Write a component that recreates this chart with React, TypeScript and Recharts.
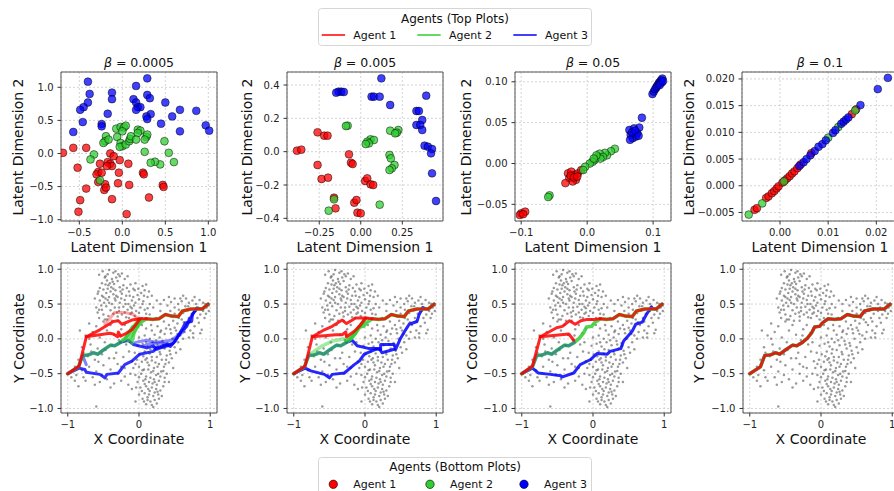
import React from "react";
import {
  ScatterChart,
  Scatter,
  XAxis,
  YAxis,
  CartesianGrid,
  ReferenceArea,
} from "recharts";

type XY = number[][];

const AGENT_COLORS = ["#ff0000", "#32cd32", "#0000ff"];
const agentNames = ["Agent 1", "Agent 2", "Agent 3"];
const betaLabels = ["0.0005", "0.005", "0.05", "0.1"];

// ---------- top row: latent space, one list per agent ----------
const latentB1A1: XY = [
  [-0.69, 0.01], [-0.57, 0.085], [-0.42, 0.085], [-0.52, -0.215], [-0.42, -0.53], [-0.49, -0.705],
  [-0.51, -0.88], [-0.14, 0.0], [-0.1, -0.04], [-0.03, -0.1], [-0.17, -0.13], [-0.14, -0.155],
  [-0.12, -0.19], [-0.18, -0.19], [-0.26, -0.155], [-0.28, -0.28], [-0.3, -0.315], [-0.24, -0.29],
  [-0.04, -0.29], [0.07, -0.155], [-0.28, -0.43], [-0.2, -0.465], [-0.21, -0.55], [-0.19, -0.515],
  [-0.05, -0.45], [0.08, -0.475], [-0.12, -0.69], [0.05, -0.915], [0.24, -0.29], [0.25, -0.315],
  [0.47, -0.475], [0.48, -0.505], [0.31, -0.665],
];
const latentB1A2: XY = [
  [-0.07, 0.375], [-0.02, 0.4], [0.02, 0.395], [0.04, 0.42], [0.0, 0.335], [-0.19, 0.26],
  [-0.2, 0.185], [-0.22, 0.16], [-0.16, 0.21], [-0.06, 0.25], [-0.02, 0.16], [0.0, 0.11],
  [-0.03, 0.1], [0.04, 0.135], [0.08, 0.185], [0.09, 0.22], [0.1, 0.26], [0.18, 0.36],
  [0.21, 0.345], [0.18, 0.31], [0.28, 0.25], [0.29, 0.285], [0.26, 0.21], [0.16, 0.21],
  [0.49, 0.185], [0.26, 0.025], [0.54, 0.01], [0.6, -0.13], [0.44, -0.165], [0.38, -0.125],
  [0.33, -0.14], [-0.33, -0.015], [-0.37, -0.09], [-0.26, -0.405],
];
const latentB1A3: XY = [
  [-0.4, 1.085], [-0.38, 0.9], [-0.4, 0.77], [-0.45, 0.7], [-0.49, 0.66], [-0.46, 0.475],
  [-0.57, 0.325], [-0.12, 0.92], [-0.12, 0.82], [-0.17, 0.6], [-0.24, 0.445], [-0.24, 0.41],
  [0.29, 1.135], [0.16, 1.02], [0.13, 0.82], [0.16, 0.77], [0.18, 0.7], [0.21, 0.7],
  [0.16, 0.66], [0.29, 0.885], [0.32, 0.835], [0.33, 0.595], [0.28, 0.56], [0.29, 0.52],
  [0.5, 0.77], [0.58, 0.56], [0.45, 0.45], [0.67, 0.66], [0.67, 0.335], [0.86, 0.645],
  [0.97, 0.425], [1.01, 0.345],
];

const latentB2A1: XY = [
  [-0.384, 0.006], [-0.358, 0.012], [-0.26, 0.116], [-0.22, 0.096], [-0.2, 0.096], [-0.26, -0.08],
  [-0.236, -0.164], [-0.197, -0.156], [-0.071, -0.016], [-0.059, -0.066], [-0.049, -0.074],
  [0.026, -0.176], [0.039, -0.16], [0.059, -0.196], [0.075, -0.2], [-0.161, -0.276],
  [-0.152, -0.34], [-0.039, -0.306], [-0.026, -0.29], [-0.02, -0.366], [0.0, -0.37],
];
const latentB2A2: XY = [
  [-0.079, 0.156], [-0.089, 0.154], [0.177, 0.126], [0.226, 0.13], [0.217, 0.114], [0.207, 0.11],
  [0.059, 0.074], [0.079, 0.07], [0.039, 0.06], [0.049, 0.05], [0.03, 0.046], [0.173, -0.02],
  [0.181, -0.04], [0.203, -0.08], [0.187, -0.1], [0.173, -0.11], [-0.161, -0.286],
  [-0.193, -0.354], [0.114, -0.318],
];
const latentB2A3: XY = [
  [0.124, 0.44], [-0.134, 0.36], [-0.118, 0.36], [-0.148, 0.354], [-0.102, 0.358], [0.065, 0.33],
  [0.079, 0.33], [0.114, 0.33], [0.177, 0.28], [0.394, 0.336], [0.335, 0.244], [0.35, 0.244],
  [0.37, 0.19], [0.335, 0.16], [0.358, 0.16], [0.37, 0.13], [0.384, 0.036], [0.404, 0.03],
  [0.429, 0.016], [0.423, -0.01], [0.429, -0.13], [0.453, -0.296],
];

const latentB3A1: XY = [
  [-0.029, -0.012], [-0.024, -0.01], [-0.019, -0.014], [-0.027, -0.018], [-0.017, -0.02],
  [-0.022, -0.022], [-0.033, -0.024], [-0.014, -0.012], [-0.009, -0.008], [-0.025, -0.015],
  [-0.02, -0.017], [-0.015, -0.016], [-0.1, -0.061], [-0.094, -0.059], [-0.102, -0.063],
  [-0.097, -0.062],
];
const latentB3A2: XY = [
  [0.042, 0.018], [0.036, 0.015], [0.03, 0.01], [0.027, 0.013], [0.019, 0.012], [0.016, 0.008],
  [0.024, 0.008], [0.02, 0.006], [0.011, 0.004], [0.014, 0.01], [0.008, 0.002], [0.004, 0.0],
  [-0.003, -0.004], [-0.006, -0.008], [0.01, 0.006], [-0.057, -0.039], [-0.059, -0.041],
];
const latentB3A3: XY = [
  [0.099, 0.085], [0.101, 0.088], [0.103, 0.091], [0.105, 0.093], [0.106, 0.095], [0.108, 0.097],
  [0.109, 0.099], [0.111, 0.1], [0.112, 0.102], [0.114, 0.104], [0.113, 0.099], [0.11, 0.096],
  [0.115, 0.101], [0.083, 0.056], [0.064, 0.041], [0.071, 0.043], [0.079, 0.044], [0.066, 0.035],
  [0.069, 0.031], [0.076, 0.037], [0.074, 0.033], [0.068, 0.038], [0.073, 0.04], [0.078, 0.034],
  [0.065, 0.029],
];

const latentB4A1: XY = [
  [-0.0053, -0.0045], [-0.0048, -0.0042], [-0.0029, -0.0023], [-0.0024, -0.002], [-0.0017, -0.0014],
  [-0.0012, -0.001], [-0.0007, -0.0005], [-0.0003, -0.0001], [0.0005, 0.0006], [0.001, 0.001],
  [0.0015, 0.0014], [0.002, 0.0018], [0.0025, 0.0023], [0.003, 0.0027], [0.0036, 0.0033],
  [0.0043, 0.004], [0.0065, 0.0061], [0.0149, 0.0134], [0.0158, 0.0143],
];
const latentB4A2: XY = [
  [-0.0065, -0.0054], [-0.0037, -0.0033], [0.0008, 0.0008], [0.01, 0.009], [0.0121, 0.011],
  [0.0156, 0.0141],
];
const latentB4A3: XY = [
  [0.004, 0.0037], [0.0049, 0.0044], [0.0055, 0.005], [0.0063, 0.0057], [0.0072, 0.0065],
  [0.008, 0.0073], [0.0088, 0.0078], [0.0095, 0.0085], [0.011, 0.0099], [0.0115, 0.0104],
  [0.0127, 0.0116], [0.0132, 0.012], [0.0137, 0.0124], [0.0142, 0.0128], [0.0167, 0.0151],
  [0.0203, 0.0181], [0.0224, 0.0202],
];

const latentSets = [
  [latentB1A1, latentB1A2, latentB1A3],
  [latentB2A1, latentB2A2, latentB2A3],
  [latentB3A1, latentB3A2, latentB3A3],
  [latentB4A1, latentB4A2, latentB4A3],
];
const topXDomains = [[-0.713, 1.101], [-0.444, 0.495], [-0.1094, 0.1271], [-0.0079, 0.0245]];
const topYDomains = [[-1.02, 1.231], [-0.416, 0.478], [-0.0704, 0.112], [-0.0066, 0.0213]];
const topXTicks = [[-0.5, 0, 0.5, 1.0], [-0.25, 0, 0.25], [-0.1, 0, 0.1], [0, 0.01, 0.02]];
const topYTicks = [
  [-1.0, -0.5, 0, 0.5, 1.0],
  [-0.4, -0.2, 0, 0.2, 0.4],
  [-0.05, 0, 0.05, 0.1],
  [-0.005, 0, 0.005, 0.01, 0.015, 0.02],
];
const topXDecimals = [1, 2, 1, 2];
const topYDecimals = [1, 1, 2, 3];

// ---------- bottom row: map points and trajectories ----------
const mapPoints: XY = [
  [-0.42, 0.99], [-0.29, 0.93], [-0.24, 0.94], [-0.48, 0.88], [-0.45, 0.84], [-0.38, 0.86], [-0.52, 0.8],
  [-0.47, 0.78], [-0.41, 0.8], [-0.35, 0.79], [-0.3, 0.83], [-0.55, 0.73], [-0.5, 0.71], [-0.44, 0.72],
  [-0.39, 0.74], [-0.33, 0.7], [-0.27, 0.74], [-0.22, 0.77], [-0.12, 0.78], [-0.05, 0.8], [-0.08, 0.72],
  [0.05, 0.76], [0.1, 0.78], [0.08, 0.7], [-0.58, 0.65], [-0.52, 0.62], [-0.46, 0.66], [-0.42, 0.6],
  [-0.36, 0.64], [-0.3, 0.6], [-0.24, 0.65], [-0.18, 0.62], [-0.14, 0.68], [-0.02, 0.63], [0.03, 0.66],
  [-0.55, 0.55], [-0.49, 0.52], [-0.44, 0.56], [-0.38, 0.5], [-0.33, 0.55], [-0.27, 0.52], [-0.2, 0.56],
  [-0.15, 0.5], [-0.1, 0.55], [-0.05, 0.52], [0.0, 0.57], [0.06, 0.54], [0.12, 0.6], [-0.6, 0.45],
  [-0.52, 0.42], [-0.46, 0.47], [-0.4, 0.41], [-0.34, 0.45], [-0.28, 0.4], [-0.22, 0.46], [-0.16, 0.42],
  [-0.1, 0.44], [-0.04, 0.4], [0.02, 0.45], [0.08, 0.42], [-0.5, 0.35], [-0.43, 0.33], [-0.36, 0.36],
  [-0.3, 0.32], [-0.24, 0.35], [-0.18, 0.31], [-0.12, 0.36], [-0.06, 0.33], [0.0, 0.37], [-0.56, 0.92],
  [-0.36, 0.95], [-0.2, 0.86], [-0.16, 0.9], [-0.62, 0.58], [0.15, 0.5], [0.18, 0.62], [-0.44, 0.93],
  [-0.5, 0.6], [-0.26, 0.68], [-0.08, 0.6], [-0.47, 0.9], [-0.4, 0.68], [-0.32, 0.88], [-0.25, 0.58],
  [-0.12, 0.46], [-0.58, 0.38], [-0.48, 0.28], [-0.38, 0.26], [-0.2, 0.38], [0.04, 0.3], [-0.42, 0.52],
  [-0.36, 0.72], [-0.28, 0.45], [-0.06, 0.7], [0.14, 0.68], [-0.53, 0.48], [-0.17, 0.73], [-0.32, 0.62],
  [-0.1, 0.38], [0.1, 0.36], [-0.51, 0.97], [-0.33, 0.97], [-0.27, 0.9], [-0.43, 0.77], [-0.37, 0.82],
  [-0.57, 0.68], [-0.23, 0.71], [-0.13, 0.62], [-0.01, 0.72], [0.07, 0.62], [-0.47, 0.58], [-0.34, 0.58],
  [-0.19, 0.5], [-0.07, 0.48], [0.05, 0.5], [-0.56, 0.42], [-0.31, 0.38], [-0.14, 0.3], [-0.02, 0.28],
  [0.12, 0.44],
  [0.25, 0.55], [0.3, 0.5], [0.35, 0.56], [0.4, 0.48], [0.45, 0.53], [0.5, 0.58], [0.55, 0.5], [0.6, 0.54],
  [0.65, 0.47], [0.7, 0.52], [0.75, 0.55], [0.8, 0.5], [0.85, 0.56], [0.9, 0.52], [0.95, 0.45], [0.98, 0.4],
  [0.3, 0.4], [0.38, 0.35], [0.44, 0.4], [0.5, 0.36], [0.56, 0.42], [0.62, 0.37], [0.68, 0.41], [0.74, 0.36],
  [0.8, 0.4], [0.86, 0.35], [0.92, 0.3], [0.35, 0.25], [0.42, 0.2], [0.48, 0.26], [0.54, 0.22], [0.6, 0.28],
  [0.66, 0.2], [0.72, 0.25], [0.78, 0.18], [0.84, 0.23], [0.3, 0.1], [0.38, 0.15], [0.45, 0.08], [0.52, 0.12],
  [0.58, 0.05], [0.64, 0.1], [0.7, 0.02], [0.76, 0.08], [0.88, 0.13], [0.24, 0.3], [0.2, 0.45], [0.15, 0.35],
  [0.93, 0.5], [0.62, 0.62], [0.5, 0.45], [0.7, 0.3], [0.82, 0.3], [0.56, 0.3], [0.66, 0.58], [0.42, 0.6],
  [0.9, 0.4], [0.78, 0.6], [0.5, 0.16], [0.72, 0.12], [0.58, 0.58], [0.69, 0.47], [0.83, 0.45],
  [0.94, 0.36], [0.63, 0.24], [0.46, 0.32], [0.76, 0.02], [0.86, 0.08], [0.54, 0.07], [0.98, 0.48],
  [0.1, -0.94], [0.16, -0.9], [0.25, -0.93], [0.05, -0.86], [0.12, -0.84], [0.2, -0.82], [0.28, -0.86],
  [0.08, -0.78], [0.15, -0.75], [0.22, -0.77], [0.3, -0.74], [0.02, -0.7], [0.1, -0.68], [0.18, -0.7],
  [0.25, -0.66], [0.34, -0.68], [-0.02, -0.62], [0.06, -0.6], [0.14, -0.62], [0.21, -0.58], [0.28, -0.6],
  [0.36, -0.56], [-0.05, -0.52], [0.03, -0.5], [0.1, -0.54], [0.17, -0.48], [0.24, -0.52], [0.31, -0.47],
  [0.39, -0.5], [-0.08, -0.42], [0.0, -0.4], [0.07, -0.44], [0.14, -0.38], [0.21, -0.42], [0.28, -0.36],
  [0.35, -0.4], [0.42, -0.34], [-0.1, -0.32], [-0.03, -0.3], [0.04, -0.33], [0.11, -0.28], [0.18, -0.31],
  [0.25, -0.26], [0.32, -0.3], [0.39, -0.24], [0.46, -0.28], [-0.06, -0.2], [0.01, -0.22], [0.08, -0.18],
  [0.15, -0.21], [0.22, -0.16], [0.29, -0.19], [0.36, -0.14], [0.43, -0.17], [0.5, -0.12], [-0.02, -0.1],
  [0.05, -0.07], [0.12, -0.11], [0.19, -0.05], [0.26, -0.09], [0.33, -0.03], [0.4, -0.06], [0.47, 0.0],
  [0.55, -0.05], [0.0, 0.02], [0.08, 0.05], [0.15, 0.0], [0.22, 0.06], [0.29, 0.02], [0.36, 0.07],
  [0.1, 0.15], [0.18, 0.12], [0.26, 0.18], [0.04, 0.2], [0.32, -0.82], [0.0, -0.8], [-0.04, -0.7],
  [0.42, -0.62], [0.2, -0.98], [0.48, -0.42], [0.13, -0.72], [0.24, -0.72], [0.19, -0.64], [0.08, -0.65],
  [0.3, -0.54], [0.16, -0.56], [0.05, -0.45], [0.2, -0.46], [0.34, -0.46], [0.26, -0.4], [0.12, -0.34],
  [0.38, -0.3], [0.3, -0.22], [0.44, -0.22], [0.52, -0.2], [0.18, -0.26], [0.06, -0.25], [0.34, -0.08],
  [0.58, -0.15], [0.62, 0.0], [0.12, -0.88], [0.22, -0.88], [0.18, -0.95], [0.27, -0.8], [0.04, -0.75],
  [0.07, -0.9], [0.14, -0.8], [0.26, -0.76], [0.36, -0.62], [0.22, -0.62], [0.09, -0.58], [0.0, -0.55],
  [0.27, -0.5], [0.13, -0.44], [0.37, -0.36], [0.23, -0.34], [0.09, -0.3], [-0.05, -0.36], [0.16, -0.15],
  [0.41, -0.1], [0.24, -0.02], [0.1, -0.05], [0.31, 0.12], [0.44, 0.14], [0.17, 0.2],
  [-0.6, -0.97], [-0.9, -0.6], [-0.85, -0.68], [-0.75, -0.6], [-0.65, -0.55], [-0.55, -0.62], [-0.45, -0.58],
  [-0.35, -0.64], [-0.25, -0.6], [-0.15, -0.66], [-0.8, -0.45], [-0.7, -0.4], [-0.6, -0.47], [-0.5, -0.38],
  [-0.4, -0.44], [-0.3, -0.36], [-0.2, -0.42], [-0.85, -0.3], [-0.72, -0.25], [-0.62, -0.3], [-0.52, -0.22],
  [-0.42, -0.28], [-0.32, -0.2], [-0.22, -0.26], [-0.14, -0.18], [-0.8, -0.12], [-0.68, -0.08], [-0.58, -0.14],
  [-0.48, -0.05], [-0.38, -0.1], [-0.28, -0.02], [-0.18, -0.08], [-0.75, 0.05], [-0.65, 0.1], [-0.55, 0.02],
  [-0.45, 0.12], [-0.35, 0.06], [-0.25, 0.14], [-0.15, 0.08], [-0.7, 0.22], [-0.6, 0.18], [-0.5, 0.25],
  [-0.4, 0.2], [-0.3, 0.26], [-0.2, 0.2], [-0.1, 0.15], [-0.88, -0.52], [-0.95, -0.55], [-0.12, -0.5],
  [-0.05, -0.9], [-0.78, -0.55], [-0.57, -0.33], [-0.47, -0.16], [-0.67, -0.18], [-0.35, -0.28],
  [-0.25, -0.4], [-0.9, -0.4], [-0.62, -0.66], [-0.4, -0.7], [-0.2, -0.54], [-0.7, 0.0], [-0.45, 0.28],
  [-0.83, 0.12], [-0.3, -0.5], [-0.1, -0.72], [-0.56, 0.3], [-0.78, -0.2], [-0.52, -0.52], [-0.26, 0.05],
  [-0.12, -0.05],
];

// route shared by every agent when beta is large
const mainRoute: XY = [
  [-1, -0.5], [-0.85, -0.4], [-0.79, -0.24], [-0.71, -0.23], [-0.64, -0.2], [-0.58, -0.22], [-0.5, -0.16],
  [-0.4, -0.09], [-0.34, -0.1], [-0.26, -0.05], [-0.19, 0.01], [-0.13, 0.09], [-0.09, 0.17], [-0.02, 0.18],
  [0.02, 0.23], [0.1, 0.29], [0.19, 0.28], [0.28, 0.29], [0.37, 0.35], [0.45, 0.33], [0.55, 0.32],
  [0.61, 0.4], [0.73, 0.43], [0.89, 0.43], [0.97, 0.5],
];
const sharedStart = mainRoute.slice(0, 10);
const sharedEnd = mainRoute.slice(15);
const blueFinish: XY = [[0.81, 0.44], [0.89, 0.43], [0.97, 0.5]];

// beta = 0.0005
const red1Upper: XY = [
  [-1, -0.5], [-0.84, -0.39], [-0.74, 0.03], [-0.55, 0.13], [-0.36, 0.25], [-0.29, 0.26], [-0.24, 0.21],
  [-0.1, 0.27], [0.01, 0.29], [0.1, 0.29],
];
const red1Inner: XY = [
  [-0.74, 0.03], [-0.41, 0.08], [-0.36, 0.07], [-0.3, 0.03], [-0.29, 0.1], [-0.26, 0.04], [-0.18, 0.08],
  [-0.1, 0.13], [0.01, 0.28],
];
const red1Faint: XY = [[-0.48, 0.21], [-0.34, 0.38], [-0.2, 0.38], [-0.08, 0.35], [-0.01, 0.29]];
const green1FanA: XY = [[-0.2, -0.01], [-0.13, 0.11], [-0.05, 0.21], [0.01, 0.29]];
const green1FanB: XY = [[-0.15, -0.03], [-0.09, 0.06], [-0.03, 0.16], [0.01, 0.28]];
const green1FanC: XY = [[-0.1, -0.06], [-0.07, 0.09], [-0.02, 0.21], [0.02, 0.28]];
const blue1Lower: XY = [
  [-1, -0.5], [-0.84, -0.42], [-0.76, -0.44], [-0.74, -0.48], [-0.55, -0.51], [-0.48, -0.56], [-0.45, -0.51],
  [-0.29, -0.49], [-0.2, -0.37], [-0.1, -0.32], [0.01, -0.22], [0.2, -0.18], [0.25, -0.13], [0.39, -0.08],
  [0.44, -0.11], [0.51, -0.03], [0.6, 0.13], [0.65, 0.23], [0.74, 0.25], [0.75, 0.35], [0.81, 0.44],
];
const blue1Mid: XY = [
  [-0.26, -0.05], [-0.15, -0.02], [-0.08, -0.08], [0.11, -0.13], [0.2, -0.1], [0.25, -0.15], [0.48, -0.06],
  [0.6, 0.11], [0.67, 0.18], [0.72, 0.3], [0.81, 0.44],
];
const blue1FaintA: XY = [[0.06, -0.1], [0.15, -0.07], [0.3, -0.06], [0.46, -0.08], [0.35, -0.12], [0.2, -0.12]];
const blue1FaintB: XY = [[-0.05, -0.05], [0.1, -0.02], [0.25, -0.05], [0.45, -0.02], [0.62, 0.1], [0.7, 0.28]];
const blue1Stub: XY = [[-0.79, -0.24], [-0.76, -0.32], [-0.74, -0.37]];

// beta = 0.005
const red2Upper: XY = [
  [-1, -0.5], [-0.84, -0.39], [-0.74, 0.03], [-0.57, 0.13], [-0.46, 0.18], [-0.32, 0.27], [-0.26, 0.22],
  [-0.13, 0.3], [0.01, 0.3], [0.1, 0.29],
];
const red2Inner: XY = [
  [-0.74, 0.03], [-0.41, 0.06], [-0.32, 0.06], [-0.27, 0.1], [-0.26, 0.03], [-0.15, 0.11], [-0.08, 0.18],
  [0.01, 0.3],
];
const green2FanA: XY = [[-0.27, -0.02], [-0.18, 0.05], [-0.11, 0.13], [-0.04, 0.23], [0.01, 0.29]];
const green2FanB: XY = [[-0.2, 0.0], [-0.14, 0.07], [-0.08, 0.16], [-0.02, 0.25]];
const green2Side: XY = [[-0.74, -0.2], [-0.6, -0.1], [-0.45, -0.03], [-0.3, 0.0]];
const blue2Lower: XY = [
  [-1, -0.5], [-0.84, -0.42], [-0.76, -0.46], [-0.57, -0.51], [-0.5, -0.56], [-0.46, -0.51], [-0.29, -0.49],
  [-0.15, -0.37], [-0.08, -0.32], [-0.01, -0.22], [0.15, -0.15], [0.22, -0.15], [0.22, -0.08], [0.41, -0.08],
  [0.43, -0.15], [0.5, 0.01], [0.57, 0.13], [0.62, 0.21], [0.73, 0.25], [0.76, 0.35], [0.81, 0.45],
];
const blue2Mid: XY = [
  [-0.26, -0.05], [-0.18, -0.02], [-0.11, -0.1], [0.06, -0.14], [0.2, -0.14], [0.24, -0.2], [0.41, -0.15],
];

// beta = 0.05
const red3Upper: XY = [
  [-1, -0.5], [-0.85, -0.39], [-0.74, 0.03], [-0.51, 0.16], [-0.43, 0.18], [-0.33, 0.26], [-0.25, 0.21],
  [-0.17, 0.26], [-0.08, 0.28], [0.03, 0.28], [0.1, 0.29],
];
const red3Inner: XY = [[-0.74, 0.03], [-0.34, 0.07], [-0.27, -0.02]];
const blue3Lower: XY = [
  [-1, -0.5], [-0.85, -0.42], [-0.77, -0.49], [-0.6, -0.51], [-0.45, -0.53], [-0.44, -0.55], [-0.27, -0.49],
  [-0.18, -0.37], [-0.04, -0.3], [0.06, -0.21], [0.2, -0.22], [0.24, -0.18], [0.39, -0.14], [0.43, -0.03],
  [0.55, 0.11], [0.6, 0.21], [0.69, 0.24], [0.75, 0.35], [0.82, 0.46],
];

// [points, agent index, stroke opacity], drawn in order
const trajectories: [XY, number, number][][] = [
  [
    [blue1Lower, 2, 0.8], [blue1Mid, 2, 0.8], [blue1FaintA, 2, 0.45],
    [blue1FaintB, 2, 0.45], [blue1Stub, 2, 0.5], [blueFinish, 2, 0.8],
    [mainRoute, 1, 0.85], [sharedStart, 2, 0.3], [green1FanA, 1, 0.7], [green1FanB, 1, 0.7],
    [green1FanC, 1, 0.7],
    [red1Faint, 0, 0.35], [red1Upper, 0, 0.85], [red1Inner, 0, 0.85], [sharedEnd, 0, 0.8],
  ],
  [
    [blue2Lower, 2, 0.85], [blue2Mid, 2, 0.85], [blueFinish, 2, 0.8],
    [mainRoute, 1, 0.85], [sharedStart, 2, 0.3], [green2FanA, 1, 0.7], [green2FanB, 1, 0.7],
    [green2Side, 1, 0.45],
    [red2Upper, 0, 0.85], [red2Inner, 0, 0.85], [sharedEnd, 0, 0.8],
  ],
  [
    [blue3Lower, 2, 0.85], [blueFinish, 2, 0.8],
    [mainRoute, 1, 0.85], [sharedStart, 2, 0.3],
    [red3Upper, 0, 0.85], [red3Inner, 0, 0.85], [sharedEnd, 0, 0.8],
  ],
  [
    [mainRoute, 2, 0.7],
    [mainRoute, 1, 0.8],
    [mainRoute, 0, 0.8],
  ],
];

const botXDomain = [-1.095, 1.095];
const botYDomain = [-1.065, 1.09];
const botXTicks = [-1, 0, 1];
const botYTicks = [-1.0, -0.5, 0, 0.5, 1.0];

// ---------- layout ----------
const PLOT_W = 156;
const TOP_Y = 72;
const TOP_H = 149;
const BOT_Y = 263;
const BOT_H = 150;
const topLefts = [61, 287, 515, 742];
const botLefts = [61, 287, 515, 743];
const topYLabelX = [18.3, 246.7, 465.7, 689];
const botYLabelX = [18.5, 245.3, 472, 699.3];
const Y_AXIS_W = 45;
const X_AXIS_H = 22;
const PAD_TOP = 6;
const PAD_RIGHT = 4;

const toPts = (arr: XY) => arr.map(([x, y]) => ({ x, y }));
const fmt = (d: number) => (v: number) => (v < 0 ? "\u2212" : "") + Math.abs(v).toFixed(d);
const tickStyle = { fontSize: 10, fill: "#222", fontFamily: "DejaVu Sans" };
const noShape = () => <g />;

const latentDot = (color: string) => (p: any) => (
  <circle
    cx={p.cx}
    cy={p.cy}
    r={3.9}
    fill={color}
    fillOpacity={0.75}
    stroke="#000"
    strokeOpacity={0.8}
    strokeWidth={0.6}
  />
);
const mapDot = (p: any) => <circle cx={p.cx} cy={p.cy} r={1.25} fill="#555" fillOpacity={0.6} />;

function Panel(props: {
  left: number;
  top: number;
  h: number;
  xDomain: number[];
  yDomain: number[];
  xTicks: number[];
  yTicks: number[];
  xDec: number;
  yDec: number;
  children: React.ReactNode;
}) {
  const { left, top, h, xDomain, yDomain, xTicks, yTicks, xDec, yDec } = props;
  const width = Y_AXIS_W + PLOT_W + PAD_RIGHT;
  const height = PAD_TOP + h + X_AXIS_H;
  return (
    <div style={{ position: "absolute", left: left - Y_AXIS_W, top: top - PAD_TOP }}>
      <ScatterChart
        width={width}
        height={height}
        margin={{ top: PAD_TOP, right: PAD_RIGHT, bottom: 0, left: 0 }}
      >
        <CartesianGrid stroke="#d4d4d4" strokeDasharray="2 2" />
        <XAxis
          type="number"
          dataKey="x"
          domain={xDomain}
          ticks={xTicks}
          interval={0}
          allowDataOverflow
          height={X_AXIS_H}
          tick={tickStyle}
          tickFormatter={fmt(xDec)}
          tickSize={3.5}
          tickMargin={4}
          tickLine={{ stroke: "#333" }}
          axisLine={false}
        />
        <YAxis
          type="number"
          dataKey="y"
          domain={yDomain}
          ticks={yTicks}
          interval={0}
          allowDataOverflow
          width={Y_AXIS_W}
          tick={tickStyle}
          tickFormatter={fmt(yDec)}
          tickSize={3.5}
          tickMargin={4}
          tickLine={{ stroke: "#333" }}
          axisLine={false}
        />
        {props.children}
        <ReferenceArea
          x1={xDomain[0]}
          x2={xDomain[1]}
          y1={yDomain[0]}
          y2={yDomain[1]}
          fill="none"
          stroke="#555"
          strokeWidth={1}
          ifOverflow="visible"
        />
      </ScatterChart>
    </div>
  );
}

const labelBase: React.CSSProperties = {
  position: "absolute",
  fontFamily: "DejaVu Sans",
  color: "#111",
  whiteSpace: "nowrap",
  textAlign: "center",
};

function XLabel({ left, top, text }: { left: number; top: number; text: string }) {
  return (
    <div style={{ ...labelBase, left: left - 40, width: PLOT_W + 80, top, fontSize: 14, lineHeight: "16px" }}>
      {text}
    </div>
  );
}

function YLabel({ cx, cy, text }: { cx: number; cy: number; text: string }) {
  return (
    <div
      style={{
        ...labelBase,
        left: cx - 100,
        top: cy - 8,
        width: 200,
        height: 16,
        fontSize: 14,
        lineHeight: "16px",
        transform: "rotate(-90deg)",
      }}
    >
      {text}
    </div>
  );
}

function TopLegend() {
  const xs = [321.7, 417.3, 513.3];
  return (
    <svg style={{ position: "absolute", left: 318, top: 8 }} width={274} height={38}>
      <rect x={0.5} y={0.5} width={273} height={37} rx={3} fill="#fff" stroke="#d6d6d6" />
      <text x={137} y={14.7} textAnchor="middle" fontSize={12} fontFamily="DejaVu Sans" fill="#111">
        Agents (Top Plots)
      </text>
      {agentNames.map((n, i) => (
        <g key={n}>
          <line x1={xs[i] - 318} x2={xs[i] - 318 + 23.4} y1={27} y2={27} stroke={AGENT_COLORS[i]} strokeWidth={1.5} />
          <text x={xs[i] - 318 + 31.6} y={31} fontSize={11} fontFamily="DejaVu Sans" fill="#111">
            {n}
          </text>
        </g>
      ))}
    </svg>
  );
}

function BottomLegend() {
  const xs = [333.3, 430, 524];
  return (
    <svg style={{ position: "absolute", left: 318, top: 457 }} width={274} height={40}>
      <rect x={0.5} y={0.5} width={273} height={45} rx={3} fill="#fff" stroke="#d6d6d6" />
      <text x={137} y={14.4} textAnchor="middle" fontSize={12} fontFamily="DejaVu Sans" fill="#111">
        Agents (Bottom Plots)
      </text>
      {agentNames.map((n, i) => (
        <g key={n}>
          <circle cx={xs[i] - 318} cy={27.3} r={4.2} fill={AGENT_COLORS[i]} stroke="#000" strokeWidth={0.6} />
          <text x={xs[i] - 318 + 20} y={31.3} fontSize={11} fontFamily="DejaVu Sans" fill="#111">
            {n}
          </text>
        </g>
      ))}
    </svg>
  );
}

export default function App() {
  return (
    <div
      style={{
        position: "absolute",
        left: 0,
        top: 0,
        width: 894,
        height: 491,
        overflow: "hidden",
        background: "#fff",
        fontFamily: "DejaVu Sans",
      }}
    >
      {latentSets.map((sets, i) => (
        <React.Fragment key={"top" + i}>
          <div
            style={{
              ...labelBase,
              left: topLefts[i] - 30,
              width: PLOT_W + 60,
              top: 55.5,
              fontSize: 12.5,
              lineHeight: "14px",
            }}
          >
            <span style={{ fontStyle: "italic" }}>β</span> = {betaLabels[i]}
          </div>
          <Panel
            left={topLefts[i]}
            top={TOP_Y}
            h={TOP_H}
            xDomain={topXDomains[i]}
            yDomain={topYDomains[i]}
            xTicks={topXTicks[i]}
            yTicks={topYTicks[i]}
            xDec={topXDecimals[i]}
            yDec={topYDecimals[i]}
          >
            {sets.map((pts, a) => (
              <Scatter
                key={"a" + a}
                data={toPts(pts)}
                fill={AGENT_COLORS[a]}
                shape={latentDot(AGENT_COLORS[a])}
                isAnimationActive={false}
              />
            ))}
          </Panel>
          <XLabel left={topLefts[i]} top={239} text="Latent Dimension 1" />
          <YLabel cx={topYLabelX[i]} cy={TOP_Y + TOP_H / 2} text="Latent Dimension 2" />
        </React.Fragment>
      ))}

      {trajectories.map((paths, i) => (
        <React.Fragment key={"bot" + i}>
          <Panel
            left={botLefts[i]}
            top={BOT_Y}
            h={BOT_H}
            xDomain={botXDomain}
            yDomain={botYDomain}
            xTicks={botXTicks}
            yTicks={botYTicks}
            xDec={0}
            yDec={1}
          >
            <Scatter data={toPts(mapPoints)} fill="#555" shape={mapDot} isAnimationActive={false} />
            {paths.map(([pts, a, op], k) => (
              <Scatter
                key={"p" + k}
                data={toPts(pts)}
                fill={AGENT_COLORS[a]}
                line={{
                  stroke: AGENT_COLORS[a],
                  strokeWidth: a === 1 ? 3.6 : 3,
                  strokeOpacity: op,
                  strokeLinejoin: "round",
                  strokeLinecap: "round",
                }}
                lineJointType="linear"
                shape={noShape}
                isAnimationActive={false}
              />
            ))}
          </Panel>
          <XLabel left={botLefts[i]} top={431.3} text="X Coordinate" />
          <YLabel cx={botYLabelX[i]} cy={BOT_Y + BOT_H / 2} text="Y Coordinate" />
        </React.Fragment>
      ))}

      <TopLegend />
      <BottomLegend />
    </div>
  );
}
